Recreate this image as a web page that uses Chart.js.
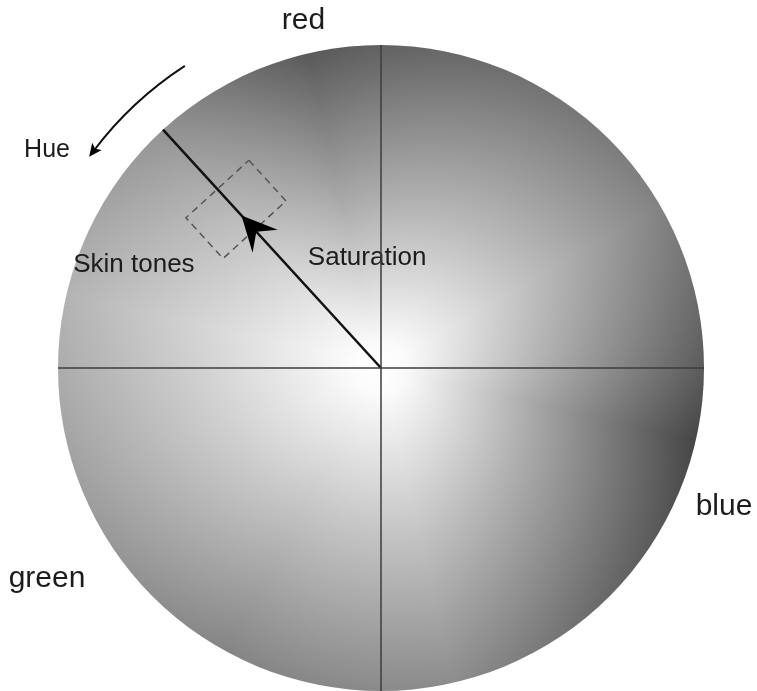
<!DOCTYPE html>
<html>
<head>
<meta charset="utf-8">
<script src="https://cdn.jsdelivr.net/npm/chart.js@4/dist/chart.umd.min.js"></script>
<style>
  html, body { margin: 0; padding: 0; background: #fff; }
  canvas { display: block; }
</style>
</head>
<body>
<canvas id="wheel" width="757" height="691"></canvas>
<script>
// Rim shade of the wheel by hue angle (degrees, counter-clockwise from east)
const rimAngles = [0, 30, 61, 103, 135, 167, 200, 241, 283, 315, 347];
const rimGray   = [88, 128, 112, 86, 148, 178, 158, 130, 138, 100, 66];

// Axis lines and the skin tone line (wheel units, radius = 1)
const hLine = [{x: -1, y: 0}, {x: 1, y: 0}];
const vLine = [{x: 0, y: -1}, {x: 0, y: 1}];
const skinLine = [{x: 0, y: 0}, {x: -0.675, y: 0.738}];
const skinBox = [
    {x: -0.409, y: 0.643}, {x: -0.294, y: 0.517},
    {x: -0.489, y: 0.339}, {x: -0.604, y: 0.465},
    {x: -0.409, y: 0.643}
];
const saturationTip = 0.64;           // where the arrow head sits on the skin line
const hueArc = {from: 123, to: 143, r: 1.115};

// Labels
const labelText = ['red', 'blue', 'green', 'Hue', 'Skin tones', 'Saturation'];
const labelX    = [-0.240, 1.062, -1.034, -1.034, -0.765, -0.043];
const labelY    = [1.050, -0.455, -0.678, 0.653, 0.297, 0.319];
const labelSize = [30, 30, 30, 25, 26, 26];

const gray = v => `rgb(${v},${v},${v})`;

const wheelPainter = {
    id: 'wheelPainter',
    beforeDatasetsDraw(chart) {
        const {ctx, scales: {x, y}} = chart;
        const cx = x.getPixelForValue(0), cy = y.getPixelForValue(0);
        const R = x.getPixelForValue(1) - cx;

        ctx.save();
        ctx.beginPath();
        ctx.arc(cx, cy, R, 0, Math.PI * 2);
        ctx.clip();

        // hue shade round the rim
        const conic = ctx.createConicGradient(0, cx, cy);
        const stops = rimAngles.map((a, i) => ({pos: ((360 - a) % 360) / 360, v: rimGray[i]}))
            .sort((a, b) => a.pos - b.pos);
        stops.forEach(s => conic.addColorStop(s.pos, gray(s.v)));
        conic.addColorStop(1, gray(rimGray[0]));
        ctx.fillStyle = conic;
        ctx.fillRect(cx - R, cy - R, 2 * R, 2 * R);

        // fade to white at the centre
        const radial = ctx.createRadialGradient(cx, cy, 0, cx, cy, R);
        radial.addColorStop(0, 'rgba(255,255,255,1)');
        radial.addColorStop(0.08, 'rgba(255,255,255,0.97)');
        radial.addColorStop(0.5, 'rgba(255,255,255,0.52)');
        radial.addColorStop(1, 'rgba(255,255,255,0.02)');
        ctx.fillStyle = radial;
        ctx.fillRect(cx - R, cy - R, 2 * R, 2 * R);
        ctx.restore();

        // labels
        ctx.save();
        ctx.fillStyle = '#1c1c1c';
        ctx.textAlign = 'center';
        ctx.textBaseline = 'alphabetic';
        labelText.forEach((t, i) => {
            ctx.font = `${labelSize[i]}px "Liberation Sans", Arial, sans-serif`;
            ctx.fillText(t, x.getPixelForValue(labelX[i]), y.getPixelForValue(labelY[i]));
        });
        ctx.restore();
    },
    afterDatasetsDraw(chart) {
        const {ctx, scales: {x, y}} = chart;
        const cx = x.getPixelForValue(0), cy = y.getPixelForValue(0);
        const R = x.getPixelForValue(1) - cx;
        ctx.save();
        ctx.fillStyle = '#000';
        ctx.strokeStyle = '#111';

        // saturation arrow head on the skin line
        const end = skinLine[1];
        const len = Math.hypot(end.x, end.y);
        const ux = end.x / len, uy = -end.y / len;   // screen direction outwards
        const px = -uy, py = ux;
        const tx = cx + ux * saturationTip * R, ty = cy + uy * saturationTip * R;
        ctx.beginPath();
        ctx.moveTo(tx, ty);
        ctx.lineTo(tx - ux * 35 + px * 17, ty - uy * 35 + py * 17);
        ctx.lineTo(tx - ux * 22, ty - uy * 22);
        ctx.lineTo(tx - ux * 35 - px * 17, ty - uy * 35 - py * 17);
        ctx.closePath();
        ctx.fill();

        // hue arrow round the outside
        const a0 = hueArc.from * Math.PI / 180, a1 = hueArc.to * Math.PI / 180;
        const r = hueArc.r * R;
        ctx.lineWidth = 2;
        ctx.beginPath();
        ctx.arc(cx, cy, r, -a0, -a1, true);
        ctx.stroke();
        const ex = cx + Math.cos(a1) * r, ey = cy - Math.sin(a1) * r;
        const dx = -Math.sin(a1), dy = -Math.cos(a1);     // screen tangent, counter-clockwise
        const nx = -dy, ny = dx;
        ctx.beginPath();
        ctx.moveTo(ex + dx * 7, ey + dy * 7);
        ctx.lineTo(ex - dx * 6 + nx * 6, ey - dy * 6 + ny * 6);
        ctx.lineTo(ex - dx * 3, ey - dy * 3);
        ctx.lineTo(ex - dx * 6 - nx * 6, ey - dy * 6 - ny * 6);
        ctx.closePath();
        ctx.fill();
        ctx.restore();
    }
};

const lineSet = (data, color, width, dash) => ({
    data: data,
    showLine: true,
    borderColor: color,
    borderWidth: width,
    borderDash: dash || [],
    pointRadius: 0,
    fill: false
});

new Chart(document.getElementById('wheel'), {
    type: 'scatter',
    data: {
        datasets: [
            lineSet(hLine, '#3c3c3c', 1.5),
            lineSet(vLine, '#3c3c3c', 1.5),
            lineSet(skinBox, '#555', 1.5, [7, 5]),
            lineSet(skinLine, '#111', 2.5)
        ]
    },
    options: {
        responsive: false,
        animation: false,
        layout: { padding: { left: 58, right: 53, top: 45, bottom: 0 } },
        plugins: { legend: { display: false }, tooltip: { enabled: false } },
        scales: {
            x: { type: 'linear', min: -1, max: 1, display: false },
            y: { type: 'linear', min: -1, max: 1, display: false }
        }
    },
    plugins: [wheelPainter]
});
</script>
</body>
</html>
